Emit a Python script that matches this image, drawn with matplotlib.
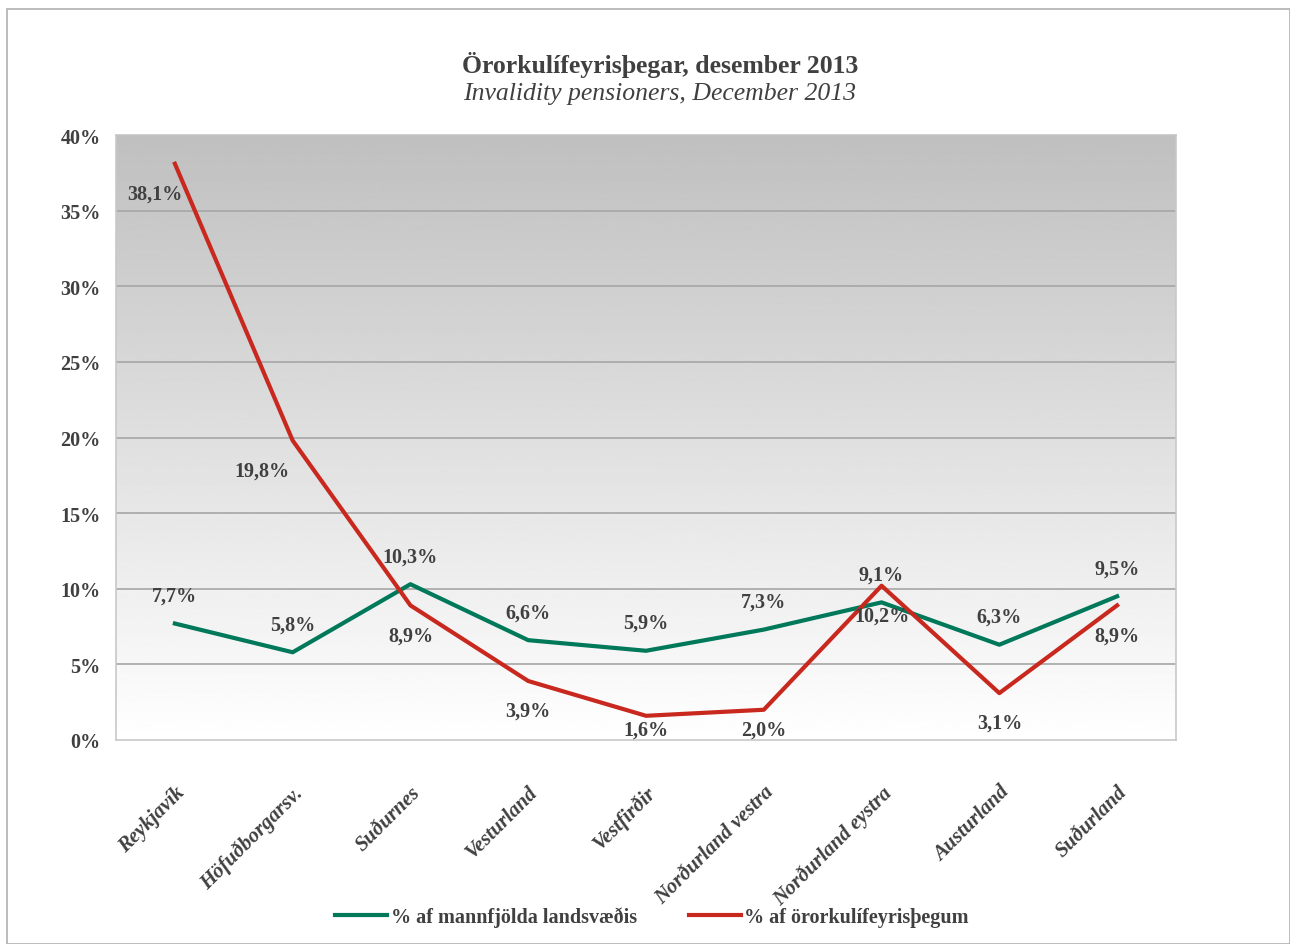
import matplotlib
matplotlib.use('Agg')
import matplotlib.pyplot as plt
import numpy as np
from matplotlib.patches import Rectangle

plt.rcParams['font.family'] = ['Liberation Serif', 'DejaVu Serif']

# Data
regions = ['Reykjavík', 'Höfuðborgarsv.', 'Suðurnes', 'Vesturland', 'Vestfirðir',
           'Norðurland vestra', 'Norðurland eystra', 'Austurland', 'Suðurland']
pop_share = [7.7, 5.8, 10.3, 6.6, 5.9, 7.3, 9.1, 6.3, 9.5]
pension_share = [38.1, 19.8, 8.9, 3.9, 1.6, 2.0, 10.2, 3.1, 8.9]
pop_labels = ['7,7%', '5,8%', '10,3%', '6,6%', '5,9%', '7,3%', '9,1%', '6,3%', '9,5%']
pension_labels = ['38,1%', '19,8%', '8,9%', '3,9%', '1,6%', '2,0%', '10,2%', '3,1%', '8,9%']
yticks = [0, 5, 10, 15, 20, 25, 30, 35, 40]

green = '#00785a'
red = '#c8281e'
txt = '#404040'

fig = plt.figure(figsize=(12.9, 9.45), dpi=100)
# outer chart border
fig.patches.append(Rectangle((7 / 1290, 0), 1 - 7 / 1290, 1 - 10 / 945,
                             transform=fig.transFigure, fill=False,
                             edgecolor='#b0b0b0', linewidth=1.2))

ax = fig.add_axes([116 / 1290, 1 - 741 / 945, 1060 / 1290, 605 / 945])
x = np.arange(len(regions))
n = len(regions)

# gradient background: white at bottom, grey at top
grad = np.linspace(1.0, 0.75, 256).reshape(-1, 1)
ax.imshow(grad, cmap='gray', vmin=0, vmax=1, aspect='auto', origin='lower',
          extent=(-0.5, n - 0.5, 0, 40), zorder=0)
ax.set_xlim(-0.5, n - 0.5)
ax.set_ylim(0, 40)

for t in yticks[1:]:
    ax.axhline(t, color='#a6a6a6', linewidth=1.2, zorder=1)

ax.plot(x, pop_share, color=green, linewidth=3, zorder=3, label='% af mannfjölda landsvæðis')
ax.plot(x, pension_share, color=red, linewidth=3, zorder=3, label='% af örorkulífeyrisþegum')

# data labels: green above, red below (kept inside the plot area)
for i in range(n):
    ax.text(x[i], pop_share[i] + 1.85, pop_labels[i], ha='center', va='center',
            fontsize=14.5, fontweight='bold', color=txt, zorder=4)
red_dx = [-0.17, -0.26, 0, 0, 0, 0, 0, 0, 0]
for i in range(n):
    ax.text(x[i] + red_dx[i], max(pension_share[i] - 1.98, 0.66), pension_labels[i],
            ha='center', va='center', fontsize=14.5, fontweight='bold', color=txt, zorder=4)

ax.set_yticks(yticks)
ax.set_yticklabels([f'{t}%' for t in yticks], fontsize=14.5, fontweight='bold', color=txt)
ax.set_xticks(x)
ax.set_xticklabels(regions, rotation=45, ha='right', rotation_mode='anchor',
                   fontsize=15, fontweight='bold', fontstyle='italic', color=txt)
ax.tick_params(axis='both', length=0)
ax.tick_params(axis='y', pad=11)
ax.tick_params(axis='x', pad=30)
for s in ax.spines.values():
    s.set_color('#c8c8c8')
    s.set_linewidth(1.2)

fig.text(660 / 1290, 1 - 65 / 945, 'Örorkulífeyrisþegar, desember 2013', ha='center', va='center',
         fontsize=18.5, fontweight='bold', color=txt)
fig.text(660 / 1290, 1 - 94 / 945, 'Invalidity pensioners, December 2013', ha='center', va='center',
         fontsize=18.5, fontstyle='italic', color=txt)

fig.legend(loc='center', bbox_to_anchor=(652 / 1290, 1 - 918 / 945), ncol=2, frameon=False,
           prop={'size': 14.5, 'weight': 'bold'}, labelcolor=txt, handlelength=2.6,
           columnspacing=2.6, handletextpad=0.15)

fig.savefig('out.png', dpi=100)
